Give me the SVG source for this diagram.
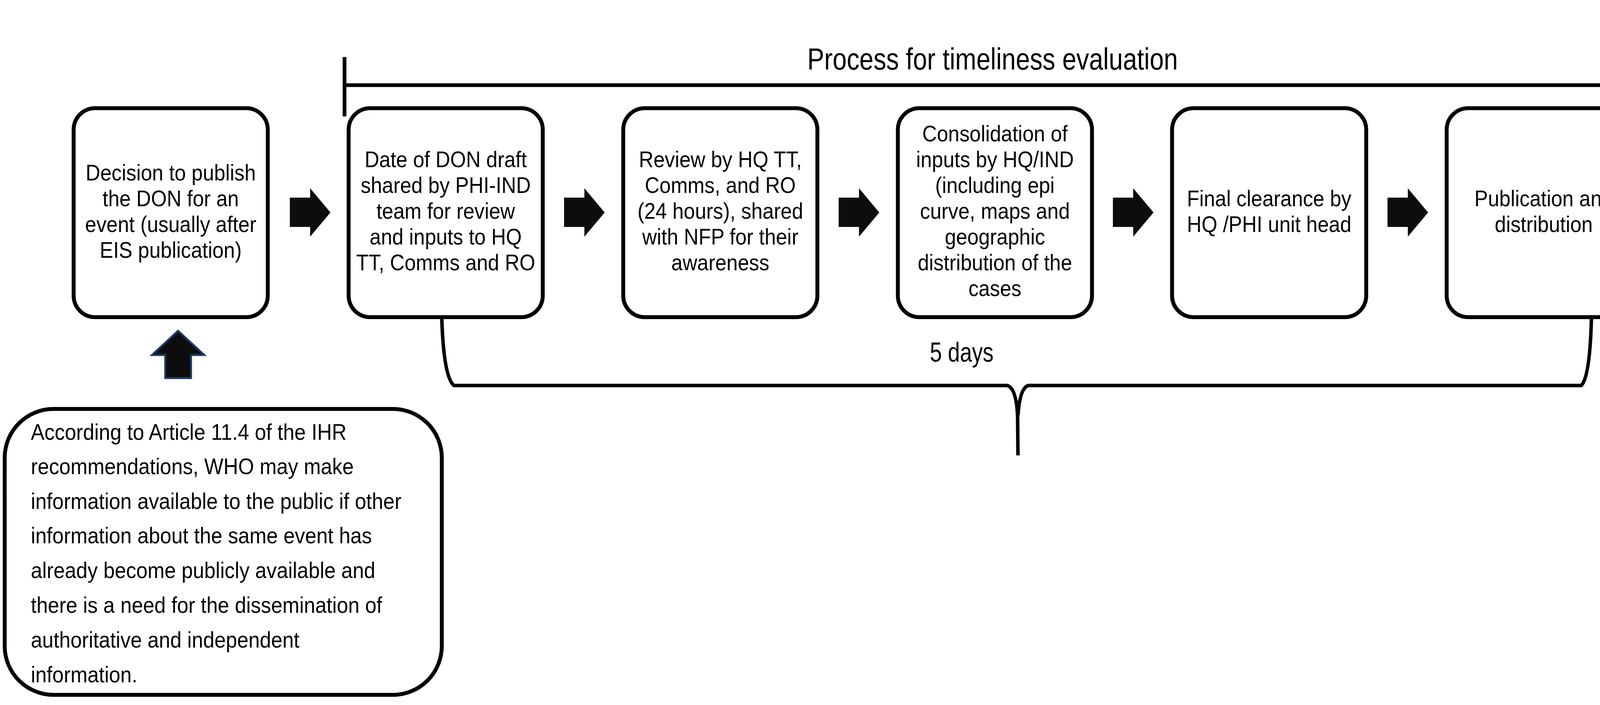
<svg xmlns="http://www.w3.org/2000/svg" width="4212" height="1805" viewBox="0 0 4212 1805">
<style>
.box{fill:#ffffff;stroke:#000000;stroke-width:10}
.t{font-family:"Liberation Sans",Arial,sans-serif;font-size:58px;fill:#000000;text-anchor:middle}
.tl{font-family:"Liberation Sans",Arial,sans-serif;font-size:58px;fill:#000000;text-anchor:start}
.ttl{font-family:"Liberation Sans",Arial,sans-serif;font-size:77px;fill:#000000;text-anchor:middle}
.arr{fill:#0d0d0d;stroke:none}
.ln{fill:none;stroke:#000000;stroke-width:9.5}
.br{fill:none;stroke:#000000;stroke-width:9;stroke-linejoin:round}
</style>
<rect x="0" y="0" width="4212" height="1805" fill="#ffffff"/>

<g id="connectors">
  <path class="arr" d="M742,506 H794 V482 L846,544 L794,606 V581 H742 Z"/>
  <path class="arr" d="M1444,506 H1496 V482 L1548,544 L1496,606 V581 H1444 Z"/>
  <path class="arr" d="M2147,506 H2199 V482 L2251,544 L2199,606 V581 H2147 Z"/>
  <path class="arr" d="M2849,506 H2901 V482 L2953,544 L2901,606 V581 H2849 Z"/>
  <path class="arr" d="M3552,506 H3604 V482 L3656,544 L3604,606 V581 H3552 Z"/>
  <path d="M456,847 L523,909 L489,909 L489,968 L423,968 L423,909 L389,909 Z" fill="#0d0d0d" stroke="#1f3864" stroke-width="5"/>
  <path class="ln" d="M882,146 V298 M882,218 H4200 M4200,146 V298"/>
  <path class="br" d="M1131,817 Q1136,965 1162,987 L2578,987 Q2601,992 2605,1063 L2606,1166 M2606,1063 Q2611,992 2633,987 L4048,987 Q4070,965 4074,817"/>
</g>

<g id="title">
  <g transform="translate(2541,0) scale(0.843,1)"><text class="ttl" x="0" y="178">Process for timeliness evaluation</text></g>
</g>
<g id="label-5days">
  <g transform="translate(2462,0) scale(0.78,1)"><text class="ttl" style="font-size:71px" x="0" y="926">5 days</text></g>
</g>

<g id="node1">
  <rect class="box" x="188.5" y="277" width="497" height="535" rx="55"/>
  <g transform="translate(437,0) scale(0.895,1)">
    <text class="t" x="0" y="462">Decision to publish</text>
    <text class="t" x="0" y="528">the DON for an</text>
    <text class="t" x="0" y="594">event (usually after</text>
    <text class="t" x="0" y="660">EIS publication)</text>
  </g>
</g>
<g id="node2">
  <rect class="box" x="892.5" y="277" width="497" height="535" rx="55"/>
  <g transform="translate(1141,0) scale(0.895,1)">
    <text class="t" x="0" y="428">Date of DON draft</text>
    <text class="t" x="0" y="494">shared by PHI-IND</text>
    <text class="t" x="0" y="560">team for review</text>
    <text class="t" x="0" y="626">and inputs to HQ</text>
    <text class="t" x="0" y="692">TT, Comms and RO</text>
  </g>
</g>
<g id="node3">
  <rect class="box" x="1595.5" y="277" width="497" height="535" rx="55"/>
  <g transform="translate(1844,0) scale(0.895,1)">
    <text class="t" x="0" y="428">Review by HQ TT,</text>
    <text class="t" x="0" y="494">Comms, and RO</text>
    <text class="t" x="0" y="560">(24 hours), shared</text>
    <text class="t" x="0" y="626">with NFP for their</text>
    <text class="t" x="0" y="692">awareness</text>
  </g>
</g>
<g id="node4">
  <rect class="box" x="2298.5" y="277" width="497" height="535" rx="55"/>
  <g transform="translate(2547,0) scale(0.895,1)">
    <text class="t" x="0" y="362">Consolidation of</text>
    <text class="t" x="0" y="428">inputs by HQ/IND</text>
    <text class="t" x="0" y="494">(including epi</text>
    <text class="t" x="0" y="560">curve, maps and</text>
    <text class="t" x="0" y="626">geographic</text>
    <text class="t" x="0" y="692">distribution of the</text>
    <text class="t" x="0" y="758">cases</text>
  </g>
</g>
<g id="node5">
  <rect class="box" x="3000.5" y="277" width="497" height="535" rx="55"/>
  <g transform="translate(3249,0) scale(0.895,1)">
    <text class="t" x="0" y="528">Final clearance by</text>
    <text class="t" x="0" y="594">HQ /PHI unit head</text>
  </g>
</g>
<g id="node6">
  <rect class="box" x="3703.5" y="277" width="497" height="535" rx="55"/>
  <g transform="translate(3952,0) scale(0.895,1)">
    <text class="t" x="0" y="528">Publication and</text>
    <text class="t" x="0" y="594">distribution</text>
  </g>
</g>
<g id="node7">
  <rect class="box" x="12" y="1047" width="1119" height="732" rx="125"/>
  <g transform="translate(79,0) scale(0.9,1)">
    <text class="tl" x="0" y="1126">According to Article 11.4 of the IHR</text>
    <text class="tl" x="0" y="1214">recommendations, WHO may make</text>
    <text class="tl" x="0" y="1303">information available to the public if other</text>
    <text class="tl" x="0" y="1391">information about the same event has</text>
    <text class="tl" x="0" y="1480">already become publicly available and</text>
    <text class="tl" x="0" y="1569">there is a need for the dissemination of</text>
    <text class="tl" x="0" y="1658">authoritative and independent</text>
    <text class="tl" x="0" y="1747">information.</text>
  </g>
</g>
</svg>
